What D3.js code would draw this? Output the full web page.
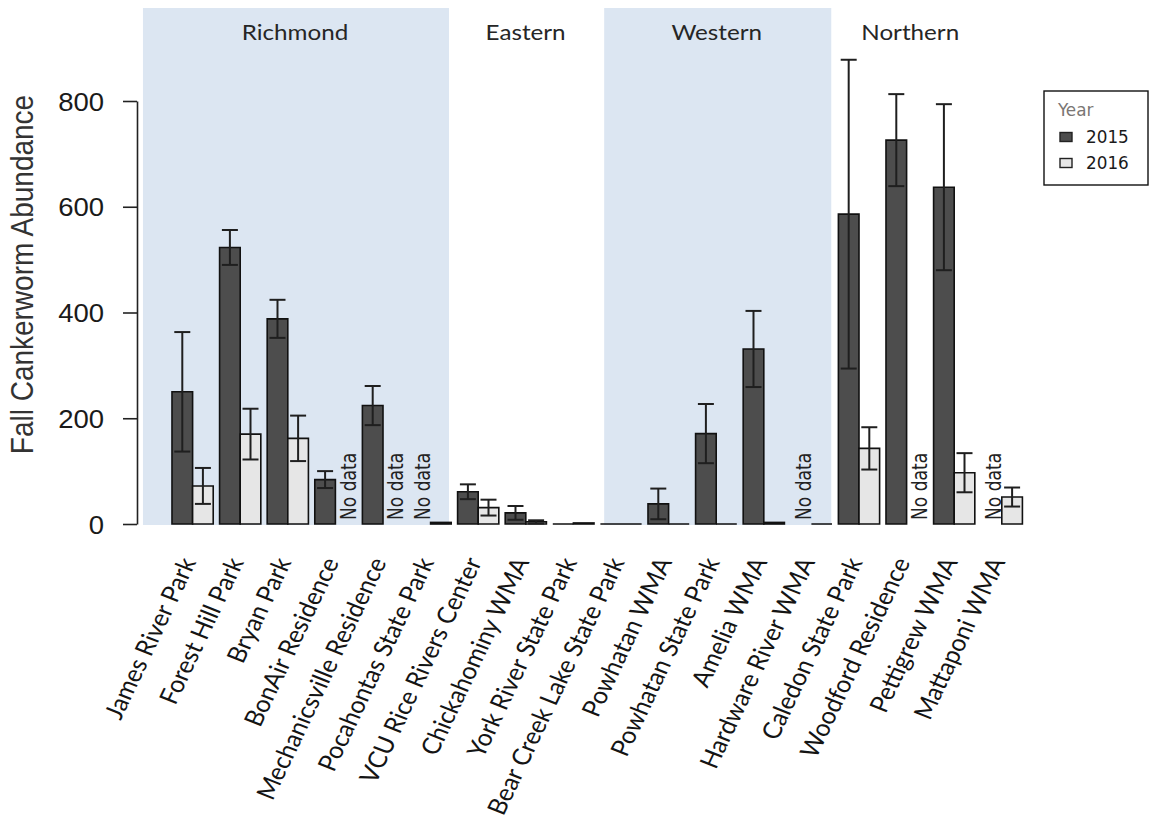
<!DOCTYPE html>
<html>
<head>
<meta charset="utf-8">
<script src="https://cdn.jsdelivr.net/npm/d3@7/dist/d3.min.js"></script>
<style>
  body { margin: 0; background: #fff; }
  svg { display: block; }
</style>
</head>
<body>
<svg id="chart" width="1151" height="822"></svg>
<script>
// Fall cankerworm abundance by site, 2015 vs 2016 (mean ± SE)
const sites = [
  "James River Park", "Forest Hill Park", "Bryan Park", "BonAir Residence",
  "Mechanicsville Residence", "Pocahontas State Park", "VCU Rice Rivers Center",
  "Chickahominy WMA", "York River State Park", "Bear Creek Lake State Park",
  "Powhatan WMA", "Powhatan State Park", "Amelia WMA", "Hardware River WMA",
  "Caledon State Park", "Woodford Residence", "Pettigrew WMA", "Mattaponi WMA"
];
const regions = ["Richmond", "Eastern", "Western", "Northern"];
const shadedRegions = ["Richmond", "Western"];
const years = ["2015", "2016"];

// null = site not sampled that year ("No data")
const abundance2015 = [250, 523, 388, 84, 224, null, 61, 21, 0, 0, 38, 171, 331, null, 586, 726, 637, null];
const abundance2016 = [72, 170, 162, null, null, 3, 31, 4, 2, 0, 0, 0, 3, 0, 143, null, 97, 51];
const se2015 = [113, 33, 36, 16, 37, null, 14, 13, 0, 0, 29, 56, 72, null, 292, 87, 157, null];
const se2016 = [34, 48, 43, null, null, 0, 15, 3, 0, 0, 0, 0, 0, 0, 40, null, 37, 18];

const yTicks = [0, 200, 400, 600, 800];
const yTitle = "Fall Cankerworm Abundance";
const noDataLabel = "No data";

// ---- layout ----
const SX = 1.1;                 // glyph width stretch used by all text
const panelTop = 8;
// region boundaries, in group steps from the first group's left edge
const regionEdges = [-0.61, 5.82, 9.08, 13.85, 17.21];

const svg = d3.select("#chart");

const x = d3.scaleBand()
  .domain(sites)
  .range([168.8, 1025.6])
  .paddingInner(0.134)
  .paddingOuter(0.067);

const xi = d3.scaleBand().domain(years).range([0, x.bandwidth()]);

const y = d3.scaleLinear().domain([0, 800]).range([524, 101]);

const fill = { "2015": "#4d4d4d", "2016": "#e6e6e6" };

const edgeX = f => x(sites[0]) + f * x.step();

// ---- region panels ----
const regionSpans = regions.map((r, i) => ({
  name: r,
  x0: edgeX(regionEdges[i]),
  x1: edgeX(regionEdges[i + 1])
}));

svg.append("g").selectAll("rect")
  .data(regionSpans.filter(d => shadedRegions.includes(d.name)))
  .join("rect")
  .attr("x", d => d.x0)
  .attr("y", panelTop)
  .attr("width", d => d.x1 - d.x0)
  .attr("height", y(0) + 1 - panelTop)
  .attr("fill", "#dce6f2");

svg.append("g").selectAll("text")
  .data(regionSpans)
  .join("text")
  .attr("transform", d => `translate(${(d.x0 + d.x1) / 2 - 1},40) scale(${SX},1)`)
  .attr("text-anchor", "middle")
  .attr("font-family", "Lato, 'Open Sans', sans-serif")
  .attr("font-size", 22)
  .attr("fill", "#262626")
  .text(d => d.name);

// ---- bars ----
const rows = [];
sites.forEach((s, i) => {
  rows.push({ site: s, year: "2015", v: abundance2015[i], se: se2015[i] });
  rows.push({ site: s, year: "2016", v: abundance2016[i], se: se2016[i] });
});
const present = rows.filter(d => d.v !== null);
const missing = rows.filter(d => d.v === null);
const barX = d => x(d.site) + xi(d.year);

// paths so that zero-height bars still show their outline
svg.append("g").selectAll("path")
  .data(present)
  .join("path")
  .attr("d", d => {
    const x0 = barX(d), x1 = x0 + xi.bandwidth();
    return `M${x0},${y(0)}H${x1}V${y(d.v)}H${x0}Z`;
  })
  .attr("fill", d => fill[d.year])
  .attr("stroke", "#111")
  .attr("stroke-width", 1.6)
  .attr("stroke-linejoin", "miter");

// error bars
const eb = svg.append("g")
  .attr("stroke", "#1f1f1f")
  .attr("stroke-width", 2)
  .selectAll("g")
  .data(present.filter(d => d.se > 0))
  .join("g")
  .attr("transform", d => `translate(${barX(d) + xi.bandwidth() / 2},0)`);
const capW = 8;
eb.append("line")
  .attr("y1", d => y(d.v - d.se)).attr("y2", d => y(d.v + d.se));
eb.append("line")
  .attr("x1", -capW).attr("x2", capW)
  .attr("y1", d => y(d.v + d.se)).attr("y2", d => y(d.v + d.se));
eb.append("line")
  .attr("x1", -capW).attr("x2", capW)
  .attr("y1", d => y(d.v - d.se)).attr("y2", d => y(d.v - d.se));

// "No data" markers
svg.append("g").selectAll("text")
  .data(missing)
  .join("text")
  .attr("transform", d => `translate(${barX(d) + xi.bandwidth() / 2 + 10},520) scale(${SX},1) rotate(-90)`)
  .attr("font-family", "'DejaVu Sans Condensed', 'DejaVu Sans', sans-serif")
  .attr("font-size", 19)
  .attr("fill", "#222")
  .text(noDataLabel);

// ---- y axis ----
const yAxis = svg.append("g")
  .attr("transform", "translate(137,0)")
  .call(d3.axisLeft(y).tickValues(yTicks).tickSize(14).tickSizeOuter(0));
yAxis.select(".domain").attr("stroke", "#222").attr("stroke-width", 1.6);
yAxis.selectAll(".tick line").attr("stroke", "#222").attr("stroke-width", 1.6);
yAxis.selectAll(".tick text")
  .attr("x", null)
  .attr("dy", "0.36em")
  .attr("transform", `translate(-33,0) scale(${SX},1)`)
  .attr("font-family", "'Liberation Sans', Arial, sans-serif")
  .attr("font-size", 25)
  .attr("fill", "#1a1a1a");

svg.append("text")
  .attr("transform", `translate(33,274.5) scale(${SX},1) rotate(-90)`)
  .attr("text-anchor", "middle")
  .attr("font-family", "'Liberation Sans', Arial, sans-serif")
  .attr("font-size", 28)
  .attr("fill", "#333")
  .text(yTitle);

// ---- site labels ----
svg.append("g").selectAll("text")
  .data(sites)
  .join("text")
  .attr("transform", d => `translate(${x(d) + x.bandwidth() / 2 + 4},562) scale(${SX},1) rotate(-66.5)`)
  .attr("text-anchor", "end")
  .attr("font-family", "Lato, 'Open Sans', sans-serif")
  .attr("font-size", 23.5)
  .attr("fill", "#141414")
  .text(d => d);

// ---- legend ----
const lg = svg.append("g");
lg.append("rect")
  .attr("x", 1044).attr("y", 91).attr("width", 104).attr("height", 94)
  .attr("fill", "#fff").attr("stroke", "#111").attr("stroke-width", 1.4);
lg.append("text")
  .attr("transform", `translate(1058,116) scale(${SX},1)`)
  .attr("font-family", "'DejaVu Sans Condensed', 'DejaVu Sans', sans-serif")
  .attr("font-size", 17)
  .attr("fill", "#7a7674")
  .text("Year");
const li = lg.selectAll("g.item")
  .data(years)
  .join("g")
  .attr("class", "item")
  .attr("transform", (d, i) => `translate(0,${i * 26})`);
li.append("rect")
  .attr("x", 1060).attr("y", 132.5).attr("width", 12).attr("height", 9)
  .attr("fill", d => fill[d]).attr("stroke", "#222").attr("stroke-width", 1.4);
li.append("text")
  .attr("transform", `translate(1086,142.5) scale(${SX},1)`)
  .attr("font-family", "'DejaVu Sans Condensed', 'DejaVu Sans', sans-serif")
  .attr("font-size", 17)
  .attr("fill", "#1a1a1a")
  .text(d => d);
</script>
</body>
</html>
